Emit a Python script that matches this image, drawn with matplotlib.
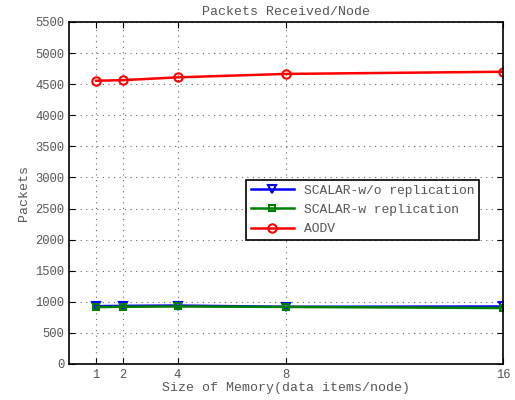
# Packets received per node vs memory size

import numpy as np
import matplotlib
matplotlib.use('Agg')
import matplotlib.pyplot as plt

plt.rcParams['font.family'] = ['Liberation Mono', 'DejaVu Sans Mono']

# Data
memory = [1, 2, 4, 8, 16]
scalar_wo = [930, 935, 940, 920, 925]
scalar_w = [915, 920, 925, 918, 900]
aodv = [4555, 4565, 4610, 4665, 4700]

fig = plt.figure(figsize=(5.15, 4.0), dpi=100)
ax = fig.add_axes([69/515, 36/400, 434/515, 342/400])

ax.plot(memory, scalar_wo, color='blue', marker='v', markersize=6,
        markerfacecolor='none', markeredgewidth=1.5, linewidth=1.8,
        label='SCALAR-w/o replication')
ax.plot(memory, scalar_w, color='green', marker='s', markersize=5,
        markerfacecolor='none', markeredgewidth=1.5, linewidth=1.8,
        label='SCALAR-w replication')
ax.plot(memory, aodv, color='red', marker='o', markersize=6,
        markerfacecolor='none', markeredgewidth=1.5, linewidth=1.8,
        label='AODV')

ax.set_xlim(0, 16)
ax.set_ylim(0, 5500)
ax.set_xticks(memory)
ax.set_yticks(np.arange(0, 5501, 500))
ax.tick_params(direction='in', top=True, right=True, labelsize=8.7,
               color='black', labelcolor='#555555', length=4)
for s in ax.spines.values():
    s.set_linewidth(1.2)
ax.grid(True, linestyle=(0, (1, 4)), color='#666666', linewidth=0.8)

ax.set_xlabel('Size of Memory(data items/node)', fontsize=9.5, color='#555555', labelpad=1)
ax.set_ylabel('Packets', fontsize=9.5, color='#555555')
ax.set_title('Packets Received/Node', fontsize=9.5, color='#555555', pad=5)

leg = ax.legend(loc='upper left', bbox_to_anchor=(0.408, 0.538), fontsize=9.4,
                fancybox=False, framealpha=1, edgecolor='black',
                borderpad=0.35, handlelength=3.3, labelspacing=0.55,
                borderaxespad=0)
leg.get_frame().set_linewidth(1.2)
for t in leg.get_texts():
    t.set_color('#555555')

fig.savefig('out.png', dpi=100)
